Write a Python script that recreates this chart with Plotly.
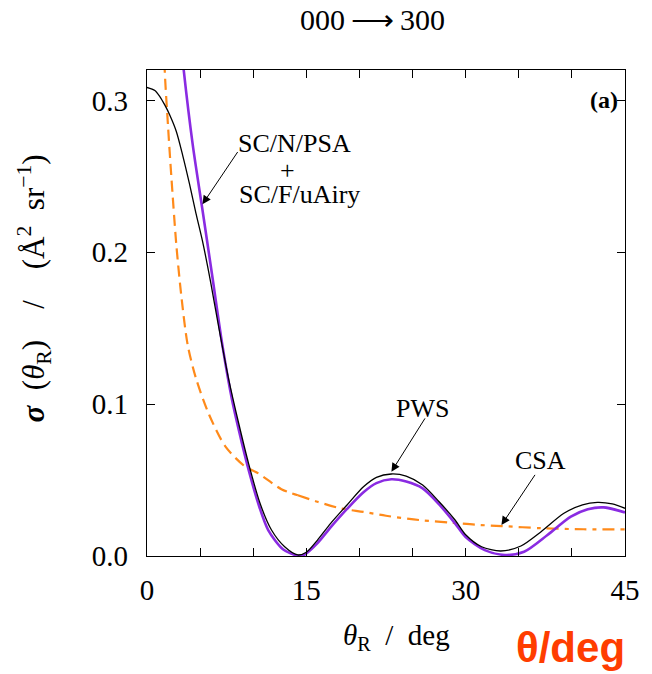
import plotly.graph_objects as go

# Differential cross section, transition 000 -> 300
# PWS (partial wave series), thin black
pws_deg = [0.0, 0.74, 1.21, 1.67, 2.13, 2.76, 3.37, 3.99, 4.61, 5.22, 6.0, 6.77,
           7.70, 8.63, 9.56, 10.64, 11.72, 12.96, 14.2, 15.0, 16.05, 17.29, 18.83,
           20.38, 21.6, 23.0, 24.4, 25.95, 27.5, 29.0, 30.0, 31.5, 33.3, 35.2, 37.1,
           39.25, 41.0, 42.4, 43.8, 45.0]
pws_sigma = [0.3085, 0.3065, 0.3025, 0.2970, 0.2905, 0.2795, 0.2635, 0.2453, 0.2256,
             0.2075, 0.1800, 0.1500, 0.1160, 0.0874, 0.0610, 0.0347, 0.0171, 0.0061,
             0.0007, 0.0025, 0.0105, 0.0215, 0.0336, 0.0456, 0.0518, 0.0540, 0.0526,
             0.0467, 0.0357, 0.0237, 0.0140, 0.0061, 0.0033, 0.0066, 0.016, 0.0281,
             0.0337, 0.0353, 0.0343, 0.0314]

# SC/N/PSA + SC/F/uAiry, purple
sc_deg = [2.6, 3.0, 3.46, 4.3, 5.22, 6.15, 7.08, 8.0, 8.93, 9.71, 10.5, 11.41,
          12.8, 14.2, 14.8, 16.05, 17.3, 18.83, 20.38, 21.6, 23.0, 24.4, 25.95,
          27.5, 29.0, 30.0, 31.8, 33.7, 35.5, 37.7, 39.9, 41.5, 43.0, 45.0]
sc_sigma = [0.385, 0.352, 0.3197, 0.271, 0.228, 0.184, 0.1395, 0.1030, 0.0745,
            0.0530, 0.034, 0.0171, 0.0045, 0.0002, 0.0008, 0.0085, 0.019, 0.031,
            0.042, 0.048, 0.0505, 0.049, 0.0445, 0.034, 0.0215, 0.0125, 0.0039,
            0.0007, 0.0028, 0.0138, 0.0259, 0.0308, 0.0320, 0.0287]

# CSA (classical scattering amplitude), orange
csa_deg = [1.5, 1.67, 1.98, 2.29, 2.76, 3.22, 3.83, 4.61, 5.85, 7.39, 9.25, 10.48,
           12.65, 14.2, 16.05, 18.2, 20.4, 22.5, 25.6, 28.7, 30.9, 33.4, 37.1, 41.1,
           45.0]
csa_sigma = [0.370, 0.3197, 0.2830, 0.2500, 0.2050, 0.1720, 0.1390, 0.1170, 0.0930,
             0.0720, 0.0588, 0.0544, 0.0440, 0.0400, 0.0357, 0.0314, 0.0290, 0.0265,
             0.0237, 0.0219, 0.0206, 0.0197, 0.0183, 0.0176, 0.0175]
csa_split = 13  # index where the dash pattern changes

x_labels = [0, 15, 30, 45]
y_labels = [0.0, 0.1, 0.2, 0.3]

SERIF = "Liberation Serif"
EN = "\u2002"

fig = go.Figure()
fig.add_trace(go.Scatter(x=csa_deg[:csa_split + 1], y=csa_sigma[:csa_split + 1], mode="lines",
                         line=dict(color="#ff8a1a", width=2.2, dash="11px,6px",
                                   shape="spline", smoothing=0.8)))
fig.add_trace(go.Scatter(x=csa_deg[csa_split:], y=csa_sigma[csa_split:], mode="lines",
                         line=dict(color="#ff8a1a", width=2.2, dash="12px,6px,4px,6px",
                                   shape="spline", smoothing=0.8)))
fig.add_trace(go.Scatter(x=sc_deg, y=sc_sigma, mode="lines",
                         line=dict(color="#8a2be2", width=2.6, shape="spline", smoothing=0.8)))
fig.add_trace(go.Scatter(x=pws_deg, y=pws_sigma, mode="lines",
                         line=dict(color="black", width=1.3, shape="spline", smoothing=0.8)))

axis_common = dict(
    showgrid=False, zeroline=False, showline=True, linecolor="black", linewidth=1.3,
    mirror="allticks", ticks="inside", ticklen=8, tickwidth=1, tickcolor="black",
    tickfont=dict(family=SERIF, size=29, color="black"),
)

fig.update_xaxes(range=[0, 45], tickvals=x_labels, ticktext=[str(v) for v in x_labels],
                 minor=dict(dtick=5, tick0=0, ticks="inside", ticklen=8, tickcolor="black"),
                 ticklabelstandoff=8, **axis_common)
fig.update_yaxes(range=[0, 0.32], tickvals=y_labels, ticktext=[f"{v:.1f}" for v in y_labels],
                 ticklabelstandoff=12, **axis_common)


def label(text, x, y, size, ref="paper", **kw):
    font = kw.pop("font", dict(family=SERIF, size=size, color="black"))
    return dict(text=text, x=x, y=y, xref=ref, yref=ref, showarrow=False,
                xanchor="center", yanchor="middle", font=font, **kw)


annotations = [
    label("000\u2009\u27f6\u2009300", 0.472, 1.103, 30),
    label("<i>θ</i><sub>R</sub>" + EN + "/" + EN + "deg", 0.523, -0.167, 29),
    label("<b><i>σ</i></b>" + EN + "(<i>θ</i><sub>R</sub>)" + EN + EN + "/" + EN + EN
          + "(Å<sup>2</sup>" + EN + "sr<sup>−1</sup>)",
          -0.237, 0.550, 31, textangle=-90),
    label("<b>θ/deg</b>", 0.885, -0.189, 42,
          font=dict(family="Liberation Sans", size=42, color="#ff3d00")),
    label("<b>(a)</b>", 0.956, 0.938, 24),
    label("SC/N/PSA", 13.9, 0.2719, 26, ref="data"),
    label("+", 13.27, 0.2541, 26, ref="data"),
    label("SC/F/uAiry", 14.4, 0.2377, 26, ref="data"),
    label("PWS", 25.95, 0.0972, 26, ref="data"),
    label("CSA", 37.09, 0.0632, 26, ref="data"),
]
for a in annotations:
    if a["xref"] == "data":
        a["xref"], a["yref"] = "x", "y"

# arrows: (tip_x, tip_y, tail_x, tail_y)
arrows = [
    (5.22, 0.2316, 8.63, 0.267),
    (23.01, 0.0555, 26.26, 0.0916),
    (33.37, 0.0204, 36.62, 0.0544),
]
for tx, ty, sx, sy in arrows:
    annotations.append(dict(text="", x=tx, y=ty, ax=sx, ay=sy, axref="x", ayref="y",
                            showarrow=True, arrowhead=2, arrowsize=1.7, arrowwidth=1,
                            arrowcolor="black"))

fig.update_layout(
    width=652, height=674,
    margin=dict(l=147, r=20, t=70, b=118),
    paper_bgcolor="white", plot_bgcolor="white",
    showlegend=False,
    annotations=annotations,
)

fig.write_html("out.html")
